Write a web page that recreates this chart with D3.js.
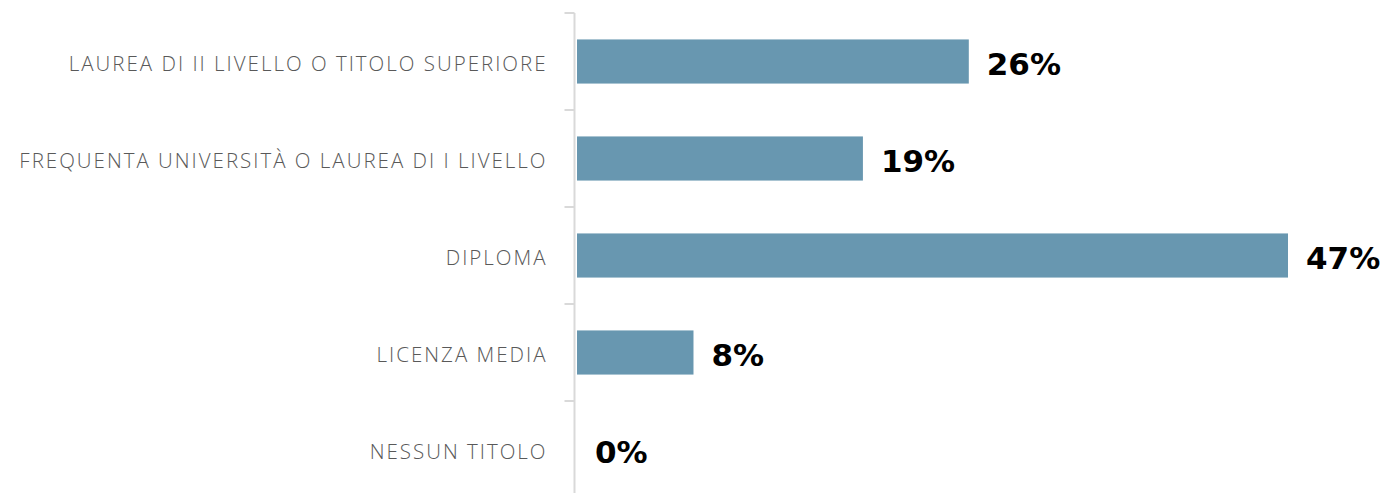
<!DOCTYPE html>
<html>
<head>
<meta charset="utf-8">
<script src="https://cdn.jsdelivr.net/npm/d3@7"></script>
<style>
html,body{margin:0;padding:0;background:#fff;}
svg{display:block;}
</style>
</head>
<body>
<svg id="chart" width="1385" height="493"></svg>
<script>
const categories = [
  "LAUREA DI II LIVELLO O TITOLO SUPERIORE",
  "FREQUENTA UNIVERSITÀ O LAUREA DI I LIVELLO",
  "DIPLOMA",
  "LICENZA MEDIA",
  "NESSUN TITOLO"
];
const values = [25.9, 18.9, 47, 7.7, 0];
const valueLabels = ["26%", "19%", "47%", "8%", "0%"];

const svg = d3.select("#chart");
const axisX = 574.5;
const y = d3.scaleBand().domain(categories).range([13, 498]).paddingInner(0.545).paddingOuter(0.2725);
const x = d3.scaleLinear().domain([0, 47]).range([axisX + 2.5, 1288]);

// bars
svg.selectAll("rect.bar").data(values).enter().append("rect")
  .attr("class", "bar")
  .attr("x", x(0))
  .attr("y", (d, i) => y(categories[i]))
  .attr("width", d => Math.max(0, x(d) - x(0)))
  .attr("height", y.bandwidth())
  .attr("fill", "#6897b0");

// axis
const yAxis = d3.axisLeft(y).tickSize(0).tickPadding(27);
const g = svg.append("g").attr("transform", `translate(${axisX},0)`).call(yAxis);
g.select(".domain").remove();
g.selectAll("text")
  .attr("fill", "#595959")
  .style("font-family", "'Open Sans', 'DejaVu Sans', sans-serif")
  .style("font-size", "20.5px")
  .style("letter-spacing", "2px")
  .style("font-weight", 300)
  .attr("dy", "0.45em");
svg.append("line").attr("x1", axisX).attr("x2", axisX).attr("y1", 13).attr("y2", 493)
  .attr("stroke", "#d9d9d9").attr("stroke-width", 2);
// boundary ticks
const step = y.step();
const bounds = d3.range(categories.length).map(i => 13 + i * step);
svg.selectAll("line.tk").data(bounds).enter().append("line")
  .attr("class", "tk")
  .attr("x1", axisX - 10).attr("x2", axisX)
  .attr("y1", d => d).attr("y2", d => d)
  .attr("stroke", "#d9d9d9").attr("stroke-width", 2);

// value labels
svg.selectAll("text.val").data(values).enter().append("text")
  .attr("class", "val")
  .attr("x", d => x(d) + 18)
  .attr("y", (d, i) => y(categories[i]) + y.bandwidth() / 2)
  .attr("dy", "0.42em")
  .attr("fill", "#000")
  .style("font-family", "'DejaVu Sans', sans-serif")
  .style("font-weight", 700)
  .style("font-size", "31px")
  .text((d, i) => valueLabels[i]);
</script>
</body>
</html>
